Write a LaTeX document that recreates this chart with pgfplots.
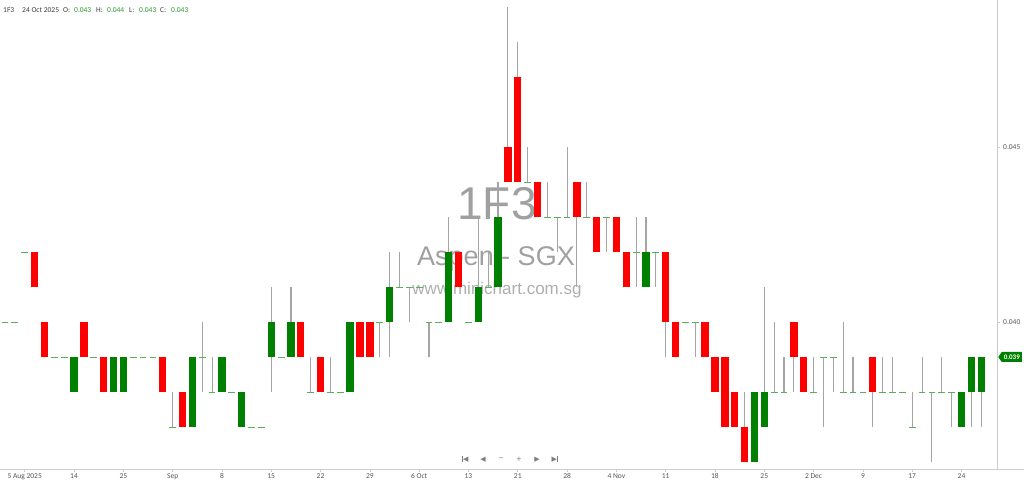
\documentclass[border=0pt]{standalone}
\usepackage{fontspec}
\setmainfont{Carlito}
\newfontfamily\wmfont{Liberation Sans}
\newfontfamily\symfont{DejaVu Sans}
\usepackage{pgfplots}
\pgfplotsset{compat=1.18}
\usepackage{pgfplotstable}
\usetikzlibrary{shapes.symbols,plotmarks}

\definecolor{cred}{RGB}{255,0,0}
\definecolor{cgreen}{RGB}{0,128,0}
\definecolor{dojigreen}{RGB}{90,175,90}
\definecolor{wickgray}{RGB}{165,165,165}
\definecolor{axisgray}{RGB}{205,205,205}
\definecolor{labelgray}{RGB}{85,85,85}
\definecolor{wmgray}{RGB}{160,160,160}
\definecolor{valgreen}{RGB}{40,150,40}
\definecolor{hdrgray}{RGB}{60,60,60}
\definecolor{navgray}{RGB}{125,125,125}

% wicks: x low high
\pgfplotstableread{
x lo hi
17 0.037 0.038
20 0.038 0.040
21 0.038 0.039
27 0.038 0.041
29 0.039 0.041
31 0.038 0.039
33 0.038 0.039
38 0.039 0.040
39 0.039 0.042
40 0.041 0.042
41 0.040 0.041
43 0.039 0.040
45 0.040 0.043
48 0.040 0.043
49 0.041 0.042
50 0.041 0.044
51 0.044 0.049
52 0.044 0.048
53 0.044 0.045
55 0.043 0.044
56 0.042 0.043
57 0.043 0.045
58 0.041 0.044
59 0.043 0.044
61 0.042 0.043
64 0.041 0.043
65 0.041 0.043
66 0.041 0.042
67 0.039 0.042
70 0.039 0.040
75 0.036 0.038
77 0.037 0.041
78 0.038 0.040
79 0.038 0.039
80 0.038 0.040
82 0.038 0.039
83 0.037 0.039
84 0.038 0.039
85 0.038 0.040
86 0.038 0.039
88 0.037 0.039
89 0.038 0.039
90 0.038 0.039
92 0.037 0.038
93 0.038 0.039
94 0.036 0.038
95 0.038 0.039
96 0.037 0.038
98 0.037 0.039
99 0.037 0.039
}\wicks

% falling bodies: x low high
\pgfplotstableread{
x lo hi
3 0.041 0.042
4 0.039 0.040
8 0.039 0.040
10 0.038 0.039
16 0.038 0.039
18 0.037 0.038
30 0.039 0.040
32 0.038 0.039
36 0.039 0.040
37 0.039 0.040
46 0.041 0.042
51 0.044 0.045
52 0.044 0.047
54 0.043 0.044
58 0.043 0.044
60 0.042 0.043
62 0.042 0.043
63 0.041 0.042
67 0.040 0.042
68 0.039 0.040
71 0.039 0.040
72 0.038 0.039
73 0.037 0.039
74 0.037 0.038
75 0.036 0.037
80 0.039 0.040
81 0.038 0.039
88 0.038 0.039
}\redbodies

% rising bodies: x low high
\pgfplotstableread{
x lo hi
7 0.038 0.039
11 0.038 0.039
12 0.038 0.039
19 0.037 0.039
22 0.038 0.039
24 0.037 0.038
27 0.039 0.040
29 0.039 0.040
35 0.038 0.040
39 0.040 0.041
45 0.040 0.042
48 0.040 0.041
50 0.041 0.043
65 0.041 0.042
76 0.036 0.038
77 0.037 0.038
97 0.037 0.038
98 0.038 0.039
99 0.038 0.039
}\greenbodies

% open = close days: x price
\pgfplotstableread{
x y
0 0.040
1 0.040
2 0.042
5 0.039
6 0.039
9 0.039
13 0.039
14 0.039
15 0.039
17 0.037
20 0.039
21 0.038
23 0.038
25 0.037
26 0.037
28 0.039
31 0.038
33 0.038
34 0.038
38 0.040
40 0.041
41 0.041
42 0.041
43 0.040
44 0.040
47 0.040
49 0.041
53 0.044
55 0.043
56 0.043
57 0.043
59 0.043
61 0.043
64 0.042
66 0.042
69 0.040
70 0.040
78 0.038
79 0.038
82 0.038
83 0.039
84 0.039
85 0.038
86 0.038
87 0.038
89 0.038
90 0.038
91 0.038
92 0.037
93 0.038
94 0.038
95 0.038
96 0.038
}\dojis

\begin{document}
\begin{tikzpicture}
\useasboundingbox (0,-15pt) rectangle (1024pt,469pt);

% watermark (behind the candles)
\node[anchor=base, inner sep=0pt, text=wmgray, font=\wmfont\fontsize{46}{50}\selectfont] at (497pt,249pt) {1F3};
\node[anchor=base, inner sep=0pt, text=wmgray, font=\wmfont\fontsize{27}{30}\selectfont] at (496pt,203pt) {Aspen - SGX};
\node[anchor=base, inner sep=0pt, text=wmgray!85, font=\wmfont\fontsize{17}{19}\selectfont] at (497pt,174pt) {www.minichart.com.sg};

\begin{axis}[
  scale only axis, width=997pt, height=469pt,
  xmin=-0.507, xmax=100.6, ymin=0.0358, ymax=0.0492,
  axis x line*=bottom, axis y line*=right,
  axis line style={draw=axisgray, line width=0.8pt, -},
  xtick={2,7,...,97},
  xticklabels={5 Aug 2025,14,25,Sep,8,15,22,29,6 Oct,13,21,28,4 Nov,11,18,25,2 Dec,9,17,24},
  ytick={0.040,0.045}, yticklabels={0.040,0.045},
  scaled y ticks=false,
  tick align=outside, major tick length=3pt,
  tick style={draw=axisgray, line width=0.6pt},
  tick label style={font=\fontsize{7.5}{9}\selectfont, text=labelgray, inner sep=1pt},
  yticklabel style={xshift=2pt},
  clip=false,
]
\addplot[draw=none, mark=none, error bars/.cd, y dir=plus, y explicit, error mark=none,
  error bar style={draw=wickgray, line width=1.1pt, solid}]
  table[x=x, y=lo, y error plus expr={\thisrow{hi}-\thisrow{lo}}] {\wicks};
\addplot[draw=none, mark=none, error bars/.cd, y dir=plus, y explicit, error mark=none,
  error bar style={draw=cred, line width=7.3pt, solid}]
  table[x=x, y=lo, y error plus expr={\thisrow{hi}-\thisrow{lo}}] {\redbodies};
\addplot[draw=none, mark=none, error bars/.cd, y dir=plus, y explicit, error mark=none,
  error bar style={draw=cgreen, line width=7.3pt, solid}]
  table[x=x, y=lo, y error plus expr={\thisrow{hi}-\thisrow{lo}}] {\greenbodies};
\addplot[only marks, mark=-, mark size=3.4pt, mark options={draw=dojigreen, fill=dojigreen, line width=0.9pt, solid}]
  table[x=x, y=y] {\dojis};
\end{axis}

\draw[axisgray, line width=0.8pt] (997pt,0) -- (1024pt,0);

% header
\begin{scope}[every node/.style={anchor=base west, inner sep=0pt, font=\fontsize{7.5}{9}\selectfont}]
\node[text=hdrgray] at (3pt,456.3pt) {1F3};
\node[text=hdrgray] at (22pt,456.3pt) {24 Oct 2025};
\node[text=hdrgray] at (63pt,456.3pt) {O:};
\node[text=valgreen] at (74pt,456.3pt) {0.043};
\node[text=hdrgray] at (96pt,456.3pt) {H:};
\node[text=valgreen] at (107pt,456.3pt) {0.044};
\node[text=hdrgray] at (129pt,456.3pt) {L:};
\node[text=valgreen] at (139pt,456.3pt) {0.043};
\node[text=hdrgray] at (160pt,456.3pt) {C:};
\node[text=valgreen] at (171pt,456.3pt) {0.043};
\end{scope}

% navigation buttons
\begin{scope}[every node/.style={inner sep=0pt, text=navgray, font=\symfont\fontsize{7}{8}\selectfont}]
\node at (465pt,9.7pt) {\rule[-0.2pt]{1pt}{5.5pt}\hspace{0.4pt}◀};
\node at (483pt,9.7pt) {◀};
\node at (501pt,9.7pt) {−};
\node at (519pt,9.7pt) {+};
\node at (537pt,9.7pt) {▶};
\node at (555pt,9.7pt) {▶\hspace{0.4pt}\rule[-0.2pt]{1pt}{5.5pt}};
\end{scope}

% last price tag
\node[signal, signal to=west, signal pointer angle=110, fill=cgreen, text=white,
  inner xsep=2pt, inner ysep=1.5pt, minimum height=10pt, anchor=west,
  font=\fontsize{7}{8}\selectfont\bfseries] at (998pt,112pt) {0.039};
\end{tikzpicture}
\end{document}
